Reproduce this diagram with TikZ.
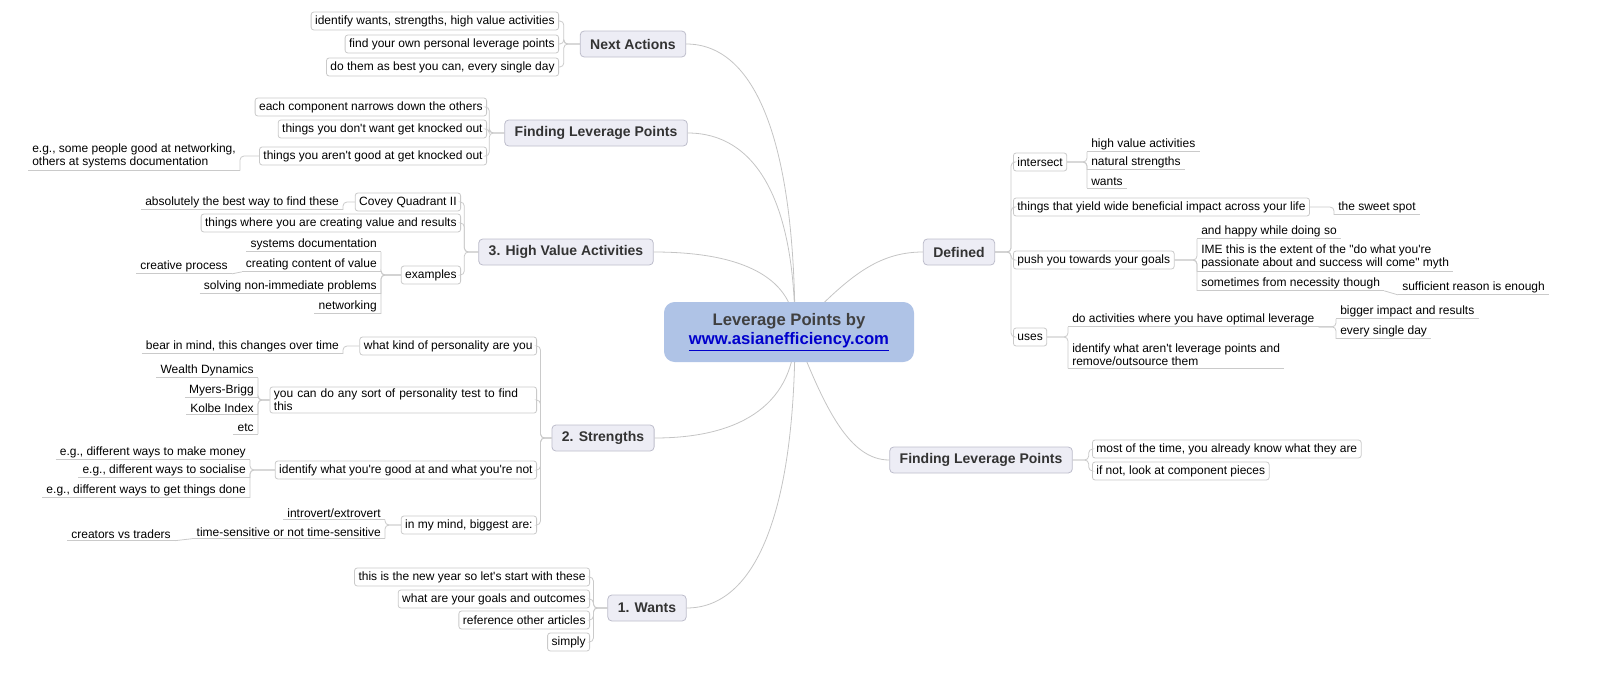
\documentclass[tikz,border=0pt]{standalone}
\usepackage{fontspec}
\setmainfont{Liberation Sans}[Ligatures=TeXOff]
\definecolor{hubfill}{HTML}{AFC3E6}
\definecolor{topicfill}{HTML}{EDEDF5}
\definecolor{topicline}{HTML}{BDBDCB}
\definecolor{leafline}{HTML}{CACACA}
\definecolor{curvecol}{HTML}{C4C4C4}
\definecolor{linkblue}{HTML}{0000CC}
\begin{document}
\begin{tikzpicture}[
		x=0.75pt, y=-0.75pt,
		hub/.style={rounded corners=8pt, fill=hubfill, minimum width=187.5pt, minimum height=45pt, align=center, text=black!75, font=\bfseries\fontsize{12.5}{14.5}\selectfont},
		topic/.style={rounded corners=3pt, fill=topicfill, draw=topicline, line width=0.6pt, text=black!80, inner xsep=7.5pt, minimum height=19.5pt, font=\bfseries\fontsize{10.5}{12}\selectfont},
		leaf/.style={rounded corners=2pt, draw=leafline, fill=white, line width=0.6pt, inner xsep=3pt, inner ysep=1.5pt, minimum height=13.5pt, font=\fontsize{9}{10}\selectfont},
		uline/.style={inner xsep=3pt, inner ysep=1.5pt, font=\fontsize{9}{10}\selectfont, append after command={(\tikzlastnode.south west) edge[conn] (\tikzlastnode.south east)}},
		conn/.style={draw=leafline, line width=0.6pt, rounded corners=3pt},
		curve/.style={draw=curvecol, line width=0.6pt},
	]
	\useasboundingbox (0,0) rectangle (1600,678);
	% main topics
	\node[topic] (na) at (633,44) {Next Actions};
	\node[topic] (fl) at (596,133) {Finding Leverage Points};
	\node[topic] (hv) at (566,252) {3. High Value Activities};
	\node[topic] (st) at (603,438) {2. Strengths};
	\node[topic] (wa) at (647,608) {1. Wants};
	\node[topic] (de) at (959,252) {Defined};
	\node[topic] (fr) at (981,460) {Finding Leverage Points};
	% curves from the centre
	\coordinate (hubpt) at (795,332);
	\draw[curve] (hubpt) .. controls (795,140) and (755,44) .. (na.east);
	\draw[curve] (hubpt) .. controls (795,199) and (755,133) .. (fl.east);
	\draw[curve] (hubpt) .. controls (795,279) and (745,252) .. (hv.east);
	\draw[curve] (hubpt) .. controls (795,401) and (745,438) .. (st.east);
	\draw[curve] (hubpt) .. controls (795,514) and (755,608) .. (wa.east);
	\draw[curve] (hubpt) .. controls (845,280) and (875,252) .. (de.west);
	\draw[curve] (hubpt) .. controls (825,410) and (850,460) .. (fr.west);
	\node[hub] (lp) at (789,332) {Leverage Points by\\{\color{linkblue}\underline{www.asianefficiency.com}}};

	% next actions
	\node[leaf, anchor=east] (na1) at (559,21) {identify wants, strengths, high value activities};
	\node[leaf, anchor=east] (na2) at (559,44) {find your own personal leverage points};
	\node[leaf, anchor=east] (na3) at (559,67) {do them as best you can, every single day};
	\foreach \c in {na1,na2,na3} \draw[conn] (na.west) -- ++(-16,0) |- (\c.east);

	% finding leverage points (left)
	\node[leaf, anchor=east] (fl1) at (487,107) {each component narrows down the others};
	\node[leaf, anchor=east] (fl2) at (487,129) {things you don't want get knocked out};
	\node[leaf, anchor=east] (fl3) at (487,156) {things you aren't good at get knocked out};
	\node[uline, anchor=east, align=left] (fl3a) at (240,156) {e.g., some people good at networking,\\others at systems documentation};
	\foreach \c in {fl1,fl2,fl3} \draw[conn] (fl.west) -- ++(-15,0) |- (\c.east);
	\draw[conn] (fl3.west) -| (fl3a.south east);

	% high value activities
	\node[leaf, anchor=east] (hv1) at (461,202) {Covey Quadrant II};
	\node[uline, anchor=east] (hv1a) at (343,202) {absolutely the best way to find these};
	\node[leaf, anchor=east] (hv2) at (461,223) {things where you are creating value and results};
	\node[leaf, anchor=east] (hv3) at (461,275) {examples};
	\node[uline, anchor=east] (hv3a) at (381,244) {systems documentation};
	\node[uline, anchor=east] (hv3b) at (381,264) {creating content of value};
	\node[uline, anchor=east] (hv3b1) at (232,266) {creative process};
	\node[uline, anchor=east] (hv3c) at (381,286) {solving non-immediate problems};
	\node[uline, anchor=east] (hv3d) at (381,306) {networking};
	\foreach \c in {hv1,hv2,hv3} \draw[conn] (hv.west) -- ++(-14,0) |- (\c.east);
	\draw[conn] (hv1.west) -| (hv1a.south east);
	\foreach \c in {hv3a,hv3b,hv3c,hv3d} \draw[conn] (hv3.west) -| (\c.south east);
	\draw[conn] (hv3b.south west) -- (hv3b1.south east);

	% strengths
	\node[leaf, anchor=east] (st1) at (537,346) {what kind of personality are you};
	\node[uline, anchor=east] (st1a) at (343,346) {bear in mind, this changes over time};
	\node[leaf, anchor=east, align=left, text width=194pt] (st2) at (537,400) {you can do any sort of personality test to find\\this};
	\node[uline, anchor=east] (st2a) at (258,370) {Wealth Dynamics};
	\node[uline, anchor=east] (st2b) at (258,390) {Myers-Brigg};
	\node[uline, anchor=east] (st2c) at (258,408) {Kolbe Index};
	\node[uline, anchor=east] (st2d) at (258,428) {etc};
	\node[leaf, anchor=east] (st3) at (537,470) {identify what you're good at and what you're not};
	\node[uline, anchor=east] (st3a) at (250,452) {e.g., different ways to make money};
	\node[uline, anchor=east] (st3b) at (250,470) {e.g., different ways to socialise};
	\node[uline, anchor=east] (st3c) at (250,490) {e.g., different ways to get things done};
	\node[leaf, anchor=east] (st4) at (537,525) {in my mind, biggest are:};
	\node[uline, anchor=east] (st4a) at (385,513) {introvert/extrovert};
	\node[uline, anchor=east] (st4b) at (385,532) {time-sensitive or not time-sensitive};
	\node[uline, anchor=east] (st4b1) at (175,534) {creators vs traders};
	\foreach \c in {st1,st2,st3,st4} \draw[conn] (st.west) -- ++(-11,0) |- (\c.east);
	\draw[conn] (st1.west) -| (st1a.south east);
	\foreach \c in {st2a,st2b,st2c,st2d} \draw[conn] (st2.west) -| (\c.south east);
	\foreach \c in {st3a,st3b,st3c} \draw[conn] (st3.west) -| (\c.south east);
	\foreach \c in {st4a,st4b} \draw[conn] (st4.west) -| (\c.south east);
	\draw[conn] (st4b.south west) -- (st4b1.south east);

	% wants
	\node[leaf, anchor=east] (wa1) at (590,577) {this is the new year so let's start with these};
	\node[leaf, anchor=east] (wa2) at (590,599) {what are your goals and outcomes};
	\node[leaf, anchor=east] (wa3) at (590,620) {reference other articles};
	\node[leaf, anchor=east] (wa4) at (590,642) {simply};
	\foreach \c in {wa1,wa2,wa3,wa4} \draw[conn] (wa.west) -- ++(-14,0) |- (\c.east);

	% defined
	\node[leaf, anchor=west] (de1) at (1013,162) {intersect};
	\node[uline, anchor=west] (de1a) at (1087,144) {high value activities};
	\node[uline, anchor=west] (de1b) at (1087,162) {natural strengths};
	\node[uline, anchor=west] (de1c) at (1087,182) {wants};
	\node[leaf, anchor=west] (de2) at (1013,207) {things that yield wide beneficial impact across your life};
	\node[uline, anchor=west] (de2a) at (1334,207) {the sweet spot};
	\node[leaf, anchor=west] (de3) at (1013,260) {push you towards your goals};
	\node[uline, anchor=west] (de3a) at (1197,231) {and happy while doing so};
	\node[uline, anchor=west, align=left] (de3b) at (1197,257) {IME this is the extent of the "do what you're\\passionate about and success will come" myth};
	\node[uline, anchor=west] (de3c) at (1197,283) {sometimes from necessity though};
	\node[uline, anchor=west] (de3c1) at (1398,287) {sufficient reason is enough};
	\node[leaf, anchor=west] (de4) at (1013,337) {uses};
	\node[uline, anchor=west] (de4a) at (1068,319) {do activities where you have optimal leverage};
	\node[uline, anchor=west] (de4a1) at (1336,311) {bigger impact and results};
	\node[uline, anchor=west] (de4a2) at (1336,331) {every single day};
	\node[uline, anchor=west, align=left] (de4b) at (1068,355) {identify what aren't leverage points and\\remove/outsource them};
	\foreach \c in {de1,de2,de3,de4} \draw[conn] (de.east) -- ++(16,0) |- (\c.west);
	\foreach \c in {de1a,de1b,de1c} \draw[conn] (de1.east) -| (\c.south west);
	\draw[conn] (de2.east) -| (de2a.south west);
	\foreach \c in {de3a,de3b,de3c} \draw[conn] (de3.east) -| (\c.south west);
	\draw[conn] (de3c.south east) -- (de3c1.south west);
	\foreach \c in {de4a,de4b} \draw[conn] (de4.east) -| (\c.south west);
	\foreach \c in {de4a1,de4a2} \draw[conn] (de4a.south east) -| (\c.south west);

	% finding leverage points (right)
	\node[leaf, anchor=west] (fr1) at (1092,449) {most of the time, you already know what they are};
	\node[leaf, anchor=west] (fr2) at (1092,471) {if not, look at component pieces};
	\foreach \c in {fr1,fr2} \draw[conn] (fr.east) -- ++(16,0) |- (\c.west);
\end{tikzpicture}
\end{document}
